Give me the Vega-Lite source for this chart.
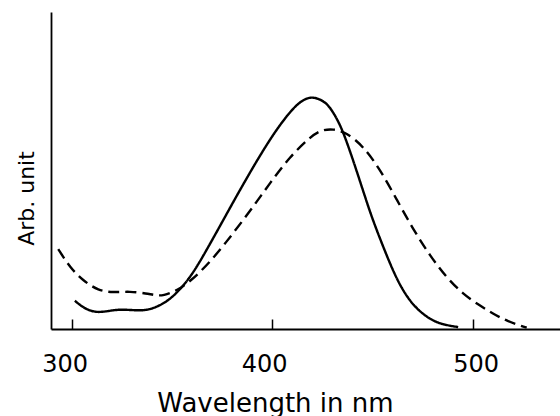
{
  "$schema": "https://vega.github.io/schema/vega-lite/v6.json",
  "autosize": "none",
  "width": 509,
  "height": 317,
  "padding": {"left": 51, "top": 12, "right": 0, "bottom": 87},
  "background": "white",
  "view": {"stroke": null},
  "config": {"font": "DejaVu Sans"},
  "data": {"values": [
    {"nm": 301.6, "v": 0.089, "s": "solid"},
    {"nm": 306.0, "v": 0.066, "s": "solid"},
    {"nm": 311.6, "v": 0.052, "s": "solid"},
    {"nm": 317.0, "v": 0.055, "s": "solid"},
    {"nm": 323.3, "v": 0.062, "s": "solid"},
    {"nm": 329.0, "v": 0.060, "s": "solid"},
    {"nm": 335.7, "v": 0.058, "s": "solid"},
    {"nm": 340.5, "v": 0.064, "s": "solid"},
    {"nm": 347.4, "v": 0.085, "s": "solid"},
    {"nm": 354.0, "v": 0.123, "s": "solid"},
    {"nm": 360.6, "v": 0.176, "s": "solid"},
    {"nm": 367.3, "v": 0.249, "s": "solid"},
    {"nm": 374.0, "v": 0.325, "s": "solid"},
    {"nm": 382.3, "v": 0.420, "s": "solid"},
    {"nm": 388.9, "v": 0.493, "s": "solid"},
    {"nm": 394.5, "v": 0.553, "s": "solid"},
    {"nm": 402.2, "v": 0.630, "s": "solid"},
    {"nm": 410.5, "v": 0.698, "s": "solid"},
    {"nm": 416.0, "v": 0.726, "s": "solid"},
    {"nm": 420.5, "v": 0.733, "s": "solid"},
    {"nm": 425.5, "v": 0.720, "s": "solid"},
    {"nm": 428.8, "v": 0.701, "s": "solid"},
    {"nm": 433.8, "v": 0.648, "s": "solid"},
    {"nm": 438.0, "v": 0.577, "s": "solid"},
    {"nm": 442.1, "v": 0.500, "s": "solid"},
    {"nm": 446.3, "v": 0.418, "s": "solid"},
    {"nm": 449.6, "v": 0.355, "s": "solid"},
    {"nm": 453.8, "v": 0.285, "s": "solid"},
    {"nm": 458.8, "v": 0.206, "s": "solid"},
    {"nm": 463.8, "v": 0.136, "s": "solid"},
    {"nm": 470.4, "v": 0.072, "s": "solid"},
    {"nm": 478.7, "v": 0.030, "s": "solid"},
    {"nm": 485.0, "v": 0.014, "s": "solid"},
    {"nm": 492.8, "v": 0.006, "s": "solid"},
    {"nm": 293.3, "v": 0.252, "s": "dashed"},
    {"nm": 299.2, "v": 0.194, "s": "dashed"},
    {"nm": 305.8, "v": 0.152, "s": "dashed"},
    {"nm": 313.3, "v": 0.121, "s": "dashed"},
    {"nm": 320.7, "v": 0.115, "s": "dashed"},
    {"nm": 329.1, "v": 0.119, "s": "dashed"},
    {"nm": 337.4, "v": 0.112, "s": "dashed"},
    {"nm": 342.0, "v": 0.106, "s": "dashed"},
    {"nm": 345.7, "v": 0.105, "s": "dashed"},
    {"nm": 352.4, "v": 0.121, "s": "dashed"},
    {"nm": 359.0, "v": 0.149, "s": "dashed"},
    {"nm": 369.0, "v": 0.210, "s": "dashed"},
    {"nm": 380.6, "v": 0.302, "s": "dashed"},
    {"nm": 390.6, "v": 0.386, "s": "dashed"},
    {"nm": 398.9, "v": 0.460, "s": "dashed"},
    {"nm": 408.9, "v": 0.544, "s": "dashed"},
    {"nm": 418.9, "v": 0.605, "s": "dashed"},
    {"nm": 424.0, "v": 0.627, "s": "dashed"},
    {"nm": 430.5, "v": 0.632, "s": "dashed"},
    {"nm": 437.2, "v": 0.619, "s": "dashed"},
    {"nm": 445.4, "v": 0.577, "s": "dashed"},
    {"nm": 453.8, "v": 0.504, "s": "dashed"},
    {"nm": 462.1, "v": 0.409, "s": "dashed"},
    {"nm": 470.4, "v": 0.314, "s": "dashed"},
    {"nm": 478.7, "v": 0.232, "s": "dashed"},
    {"nm": 487.0, "v": 0.162, "s": "dashed"},
    {"nm": 495.3, "v": 0.110, "s": "dashed"},
    {"nm": 502.8, "v": 0.077, "s": "dashed"},
    {"nm": 510.0, "v": 0.049, "s": "dashed"},
    {"nm": 517.0, "v": 0.025, "s": "dashed"},
    {"nm": 527.0, "v": 0.004, "s": "dashed"}
  ]},
  "mark": {"type": "line", "interpolate": "basis", "color": "black", "strokeWidth": 2.4, "clip": true},
  "encoding": {
    "x": {
      "field": "nm", "type": "quantitative",
      "scale": {"domain": [289.7, 543.6], "nice": false, "zero": false},
      "axis": {
        "values": [300, 400, 500],
        "grid": false,
        "domainColor": "black", "domainWidth": 1.8,
        "tickColor": "black", "tickWidth": 1.5, "tickSize": -10,
        "labelFontSize": 24, "labelColor": "black", "labelPadding": 33,
        "labelOffset": {"condition": [{"test": "datum.value == 300", "value": -7}, {"test": "datum.value == 400", "value": -8}], "value": 3},
        "title": "Wavelength in nm",
        "titleFontSize": 26, "titleFontWeight": "normal", "titleColor": "black",
        "titleX": 224, "titleY": 82, "titleBaseline": "alphabetic", "titleAlign": "center"
      }
    },
    "y": {
      "field": "v", "type": "quantitative",
      "scale": {"domain": [0, 1], "nice": false},
      "axis": {
        "ticks": false, "labels": false, "grid": false,
        "domainColor": "black", "domainWidth": 1.8,
        "title": "Arb. unit",
        "titleFontSize": 22, "titleFontWeight": "normal", "titleColor": "black",
        "titleAngle": -90, "titleX": -18, "titleY": 186,
        "titleBaseline": "alphabetic", "titleAlign": "center"
      }
    },
    "strokeDash": {
      "field": "s", "type": "nominal",
      "scale": {"domain": ["solid", "dashed"], "range": [[1, 0], [11, 6]]},
      "legend": null
    },
    "order": {"field": "nm", "type": "quantitative"}
  }
}
